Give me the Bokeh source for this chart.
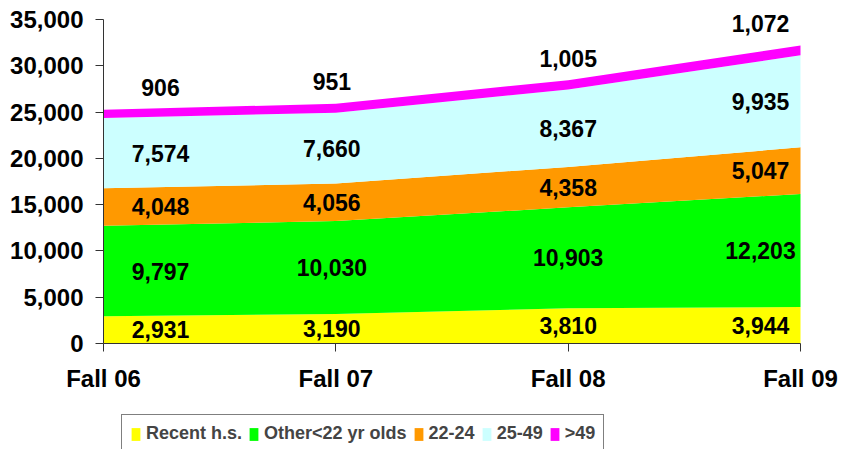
import numpy as np
from bokeh.plotting import figure
from bokeh.models import (ColumnDataSource, Range1d, FixedTicker, NumeralTickFormatter,
                          Legend, LegendItem)
from bokeh.core.properties import value
from bokeh.embed import file_html
from bokeh.resources import INLINE

categories = ["Fall 06", "Fall 07", "Fall 08", "Fall 09"]
series_names = ["Recent h.s.", "Other<22 yr olds", "22-24", "25-49", ">49"]
recent_hs = [2931, 3190, 3810, 3944]
other_under22 = [9797, 10030, 10903, 12203]
age_22_24 = [4048, 4056, 4358, 5047]
age_25_49 = [7574, 7660, 8367, 9935]
age_over49 = [906, 951, 1005, 1072]
y_ticks = [0, 5000, 10000, 15000, 20000, 25000, 30000, 35000]

colors = ["#FFFF00", "#00FF00", "#FF9900", "#CCFFFF", "#FF00FF"]
keys = ["s0", "s1", "s2", "s3", "s4"]
series = [recent_hs, other_under22, age_22_24, age_25_49, age_over49]

xs = list(range(len(categories)))
data = {"x": xs}
for k, s in zip(keys, series):
    data[k] = s
source = ColumnDataSource(data)

FONT = "Liberation Sans"

# layout: the axes' spans occupy a 697x324 px box at (103, 19); the frame covers the
# whole canvas so that axis labels, top labels and the legend are not clipped.
W, H = 842, 449
PLOT_L, PLOT_T, PLOT_W, PLOT_H = 103, 19, 697, 324
Y_MAX = y_ticks[-1]
X_MAX = len(categories) - 1
upy = Y_MAX / PLOT_H
upx = X_MAX / PLOT_W
y_start = -(H - PLOT_T - PLOT_H) * upy
y_end = Y_MAX + PLOT_T * upy
x_start = -PLOT_L * upx
x_end = X_MAX + (W - PLOT_L - PLOT_W) * upx

p = figure(frame_width=W, frame_height=H, output_backend="svg", toolbar_location=None,
           x_range=Range1d(x_start, x_end), y_range=Range1d(y_start, y_end),
           min_border_left=0, min_border_right=0, min_border_top=0, min_border_bottom=0)
p.outline_line_color = None
p.xgrid.visible = False
p.ygrid.visible = False

renderers = p.varea_stack(stackers=keys, x="x", color=colors, source=source)

# data labels
arr = np.array(series, dtype=float)
cum = np.cumsum(arr, axis=0)
x_off_by_cat = [57, -4, 0, -40]
lx, ly, lt, lxo, lyo = [], [], [], [], []
for i in range(len(series)):
    for j in range(len(categories)):
        lx.append(xs[j])
        lt.append(f"{int(arr[i, j]):,}")
        lxo.append(x_off_by_cat[j])
        if i == len(series) - 1:
            ly.append(cum[i, j])
            lyo.append(-22)
        else:
            ly.append(cum[i, j] - arr[i, j] / 2)
            lyo.append(0)
lsrc = ColumnDataSource(dict(x=lx, y=ly, text=lt, xo=lxo, yo=lyo))
p.text(x="x", y="y", text="text", x_offset="xo", y_offset="yo", source=lsrc,
       text_font=value(FONT), text_font_style="bold", text_font_size="23px",
       text_align="center", text_baseline="middle", text_color="black")

# axes
for ax in (p.xaxis[0], p.yaxis[0]):
    ax.axis_line_color = "#333333"
    ax.major_tick_line_color = "#333333"
    ax.major_tick_in = 0
    ax.major_tick_out = 8
    ax.minor_tick_line_color = None
    ax.major_label_text_font = FONT
    ax.major_label_text_font_style = "bold"
    ax.major_label_text_font_size = "24px"
    ax.major_label_text_color = "black"

p.yaxis[0].ticker = FixedTicker(ticks=y_ticks)
p.yaxis[0].formatter = NumeralTickFormatter(format="0,0")
p.yaxis[0].major_label_standoff = 12
p.yaxis[0].bounds = (0, Y_MAX)
p.yaxis[0].fixed_location = 0

p.xaxis[0].ticker = FixedTicker(ticks=xs)
p.xaxis[0].major_label_overrides = {i: c for i, c in enumerate(categories)}
p.xaxis[0].major_label_standoff = 13
p.xaxis[0].bounds = (0, X_MAX)
p.xaxis[0].fixed_location = 0

lg = Legend(items=[LegendItem(label=n, renderers=[r]) for n, r in zip(series_names, renderers)])
lg.orientation = "horizontal"
lg.location = (121, -4)
lg.label_text_font = FONT
lg.label_text_font_style = "bold"
lg.label_text_font_size = "18px"
lg.glyph_width = 11
lg.glyph_height = 16
lg.label_standoff = 5
lg.spacing = 6
lg.padding = 8
lg.label_height = 20
lg.border_line_color = "black"
lg.border_line_width = 1
lg.background_fill_color = "white"
lg.background_fill_alpha = 1
p.add_layout(lg, "center")

open("out.html", "w").write(file_html(p, INLINE))
